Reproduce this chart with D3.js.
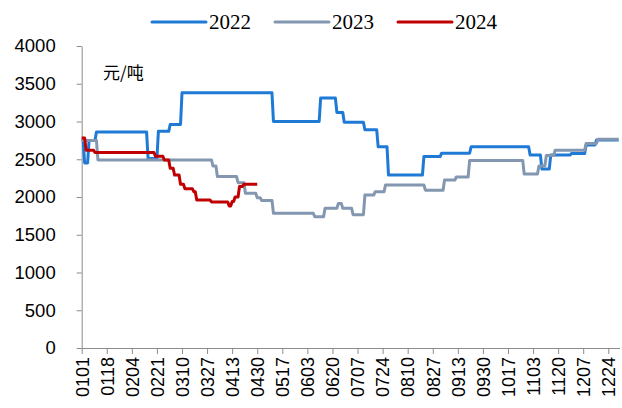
<!DOCTYPE html>
<html>
<head>
<meta charset="utf-8">
<script src="https://cdn.jsdelivr.net/npm/d3@7/dist/d3.min.js"></script>
<style>
  html, body { margin: 0; padding: 0; background: #fff; }
  svg { display: block; }
</style>
</head>
<body>
<svg id="chart" width="622" height="408"></svg>
<script>
// Price series (元/吨), stored as change dates (MMDD) and the level held from that date on
const dates2022 = ["0101","0103","0106","0111","0215","0222","0302","0310","0511","0612","0623","0628","0712","0721","0728","0821","0902","0922","1101","1109","1115","1129","1209","1216","1231"];
const values2022 = [2750,2450,2750,2860,2510,2870,2960,3380,3000,3310,3120,2990,2890,2665,2290,2535,2580,2665,2555,2370,2555,2575,2690,2755,2755];

const dates2023 = ["0101","0112","0331","0403","0417","0422","0430","0503","0511","0608","0615","0624","0627","0704","0712","0719","0726","0822","0904","0912","0921","1028","1107","1112","1118","1209","1217","1231"];
const values2023 = [2750,2490,2410,2270,2190,2050,1990,1955,1785,1740,1850,1915,1850,1765,2025,2070,2160,2090,2225,2265,2485,2305,2410,2550,2620,2710,2765,2765];

const dates2024 = ["0101","0104","0110","0220","0226","0302","0305","0309","0312","0318","0320","0330","0411","0413","0415","0418","0421","0430"];
const values2024 = [2780,2620,2590,2540,2490,2380,2290,2170,2110,2070,1960,1935,1880,1940,2000,2140,2170,2170];

const seriesNames = ["2022", "2023", "2024"];
const seriesColors = ["#1f7ad6", "#8497b0", "#c00000"];

const xTickLabels = ["0101","0118","0204","0221","0310","0327","0413","0430","0517","0603","0620","0707","0724","0810","0827","0913","0930","1017","1103","1120","1207","1224"];
const yTickValues = [0,500,1000,1500,2000,2500,3000,3500,4000];
const unitLabel = "元/吨";

const monthStart = [0,31,59,90,120,151,181,212,243,273,304,334];
function dayOfYear(mmdd) {
  return monthStart[+mmdd.slice(0, 2) - 1] + (+mmdd.slice(2)) - 1;
}

const svg = d3.select("#chart");
const x = d3.scaleLinear().domain([0, 364]).range([81.7, 618.6]);
const y = d3.scaleLinear().domain([0, 4000]).range([348, 46]);
const axisColor = "#8c8c8c";

// step points: each level held until the day before the next change
function stepPoints(dates, values) {
  const pts = [];
  dates.forEach((d, i) => {
    const day = dayOfYear(d);
    if (i > 0) pts.push([day - 1, values[i - 1]]);
    pts.push([day, values[i]]);
  });
  return pts;
}

const series = [
  stepPoints(dates2022, values2022),
  stepPoints(dates2023, values2023),
  stepPoints(dates2024, values2024)
];

// Y axis
const yAxis = svg.append("g")
  .attr("transform", `translate(${x(0)},0)`)
  .call(d3.axisLeft(y).tickValues(yTickValues).tickFormat(d3.format("d"))
    .tickSize(5).tickPadding(21).tickSizeOuter(0));
yAxis.select(".domain").attr("stroke", axisColor);
yAxis.selectAll(".tick line").attr("stroke", axisColor);
yAxis.selectAll(".tick text")
  .attr("fill", "#000")
  .style("font-family", "'Liberation Sans', Arial, sans-serif")
  .style("font-size", "18.5px");

// X axis
const xAxis = svg.append("g")
  .attr("transform", `translate(0,${y(0)})`)
  .call(d3.axisBottom(x)
    .tickValues(xTickLabels.map(dayOfYear))
    .tickFormat((d, i) => xTickLabels[i])
    .tickSize(6).tickSizeOuter(0));
xAxis.select(".domain").attr("stroke", axisColor).attr("d", `M${x(0)},0.5H620`);
xAxis.selectAll(".tick line").attr("stroke", axisColor);
xAxis.selectAll(".tick text")
  .attr("fill", "#000")
  .attr("transform", "rotate(-90)")
  .attr("text-anchor", "end")
  .attr("x", -9)
  .attr("y", 0)
  .attr("dy", "0.35em")
  .style("font-family", "'Liberation Sans', Arial, sans-serif")
  .style("font-size", "18px");

// lines
const line = d3.line().x(d => x(d[0])).y(d => y(d[1]));
series.forEach((pts, i) => {
  svg.append("path")
    .datum(pts)
    .attr("fill", "none")
    .attr("stroke", seriesColors[i])
    .attr("stroke-width", 3)
    .attr("stroke-linejoin", "round")
    .attr("d", line);
});

// unit label
svg.append("text")
  .attr("x", 103)
  .attr("y", 79)
  .style("font-family", "'Noto Sans CJK SC', sans-serif")
  .style("font-size", "17px")
  .text(unitLabel);

// legend
const legend = svg.append("g");
const legendX = [152, 275, 398];
seriesNames.forEach((name, i) => {
  const g = legend.append("g").attr("transform", `translate(${legendX[i]},22)`);
  g.append("line")
    .attr("x1", 0).attr("x2", 54)
    .attr("y1", 0).attr("y2", 0)
    .attr("stroke", seriesColors[i])
    .attr("stroke-width", 3)
    .attr("stroke-linecap", "round");
  g.append("text")
    .attr("x", 57)
    .attr("y", 0)
    .attr("dy", "0.35em")
    .style("font-family", "'Liberation Serif', 'Times New Roman', serif")
    .style("font-size", "21px")
    .text(name);
});
</script>
</body>
</html>
